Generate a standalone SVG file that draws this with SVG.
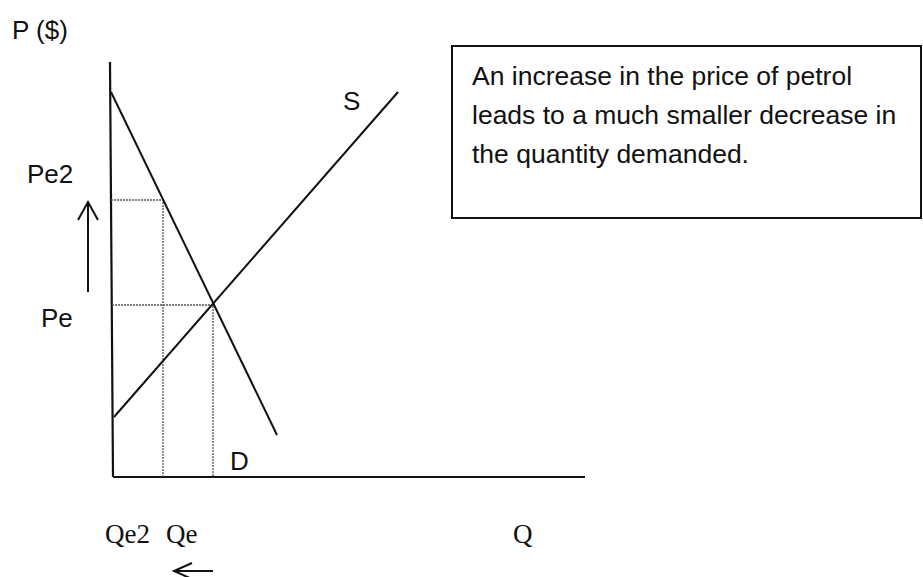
<svg xmlns="http://www.w3.org/2000/svg" width="923" height="577" viewBox="0 0 923 577">
<style>
.lbl{font-family:"Liberation Sans",Arial,sans-serif;font-size:26px;fill:#111}
.note{font-family:"Liberation Sans",Arial,sans-serif;font-size:26.5px;fill:#111}
.ser{font-family:"Liberation Serif","Times New Roman",serif;font-size:27px;fill:#111}
.ax{stroke:#111;stroke-width:2.2;fill:none}
.ln{stroke:#111;stroke-width:2;fill:none}
.dot{stroke:#555;stroke-width:1.3;stroke-dasharray:2 1;fill:none}
.arr{stroke:#111;stroke-width:2;fill:none}
</style>
<rect width="923" height="577" fill="#fff"/>
<g id="axes">
<line class="ax" x1="110" y1="62" x2="113" y2="477"/>
<line class="ax" x1="113" y1="477" x2="585" y2="477"/>
</g>
<g id="guides">
<polyline class="dot" points="111,200 163,200 163,477"/>
<polyline class="dot" points="112,305 213,305 213,477"/>
</g>
<g id="connectors">
<line id="demand" class="ln" x1="111" y1="92" x2="277" y2="435"/>
<line id="supply" class="ln" x1="114" y1="417" x2="398" y2="92"/>
<g id="arrow-up" class="arr"><line x1="88" y1="292" x2="88" y2="202"/><polyline points="78,220 88,202 98,220"/></g>
<g id="arrow-left" class="arr"><line x1="174" y1="571" x2="213" y2="571"/><polyline points="192,563 174,571 192,579"/></g>
</g>
<g id="labels">
<text class="lbl" x="12" y="39">P ($)</text>
<text class="lbl" x="27" y="183">Pe2</text>
<text class="lbl" x="41" y="327">Pe</text>
<text class="lbl" x="343" y="110">S</text>
<text class="lbl" x="230" y="470">D</text>
<text class="ser" x="105" y="543">Qe2</text>
<text class="ser" x="166" y="543">Qe</text>
<text class="ser" x="513" y="543">Q</text>
</g>
<g id="note">
<rect x="452" y="46" width="469" height="172" fill="none" stroke="#111" stroke-width="2"/>
<text class="note" x="472" y="85">An increase in the price of petrol</text>
<text class="note" x="472" y="124">leads to a much smaller decrease in</text>
<text class="note" x="472" y="163">the quantity demanded.</text>
</g>
</svg>
